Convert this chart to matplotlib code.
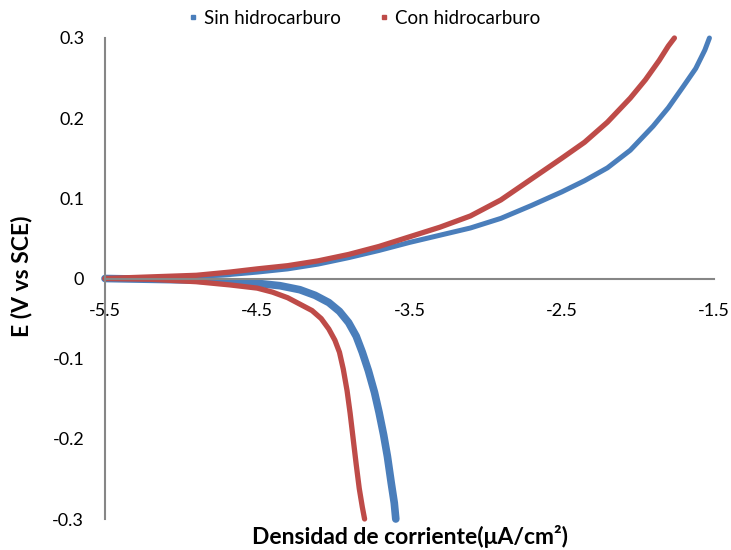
import matplotlib
matplotlib.use("Agg")
import matplotlib.pyplot as plt
from matplotlib.lines import Line2D

plt.rcParams['font.family'] = ['Lato', 'DejaVu Sans']

# Sin hidrocarburo - anodic / cathodic branches (log i, E)
sin_an_x = [-5.5, -5.2, -4.9, -4.68, -4.5, -4.3, -4.1, -3.9, -3.7, -3.5, -3.3, -3.1,
            -2.9, -2.7, -2.5, -2.35, -2.2, -2.05, -1.9, -1.8, -1.7, -1.62, -1.56, -1.53]
sin_an_y = [0.0, 0.001, 0.003, 0.005, 0.008, 0.012, 0.018, 0.026, 0.035, 0.045, 0.054, 0.063,
            0.075, 0.091, 0.108, 0.122, 0.138, 0.160, 0.190, 0.213, 0.240, 0.262, 0.285, 0.300]
sin_ca_x = [-5.5, -5.2, -4.9, -4.68, -4.5, -4.35, -4.22, -4.12, -4.03, -3.96, -3.9, -3.85,
            -3.81, -3.77, -3.73, -3.70, -3.67, -3.645, -3.62, -3.60, -3.59]
sin_ca_y = [0.0, -0.001, -0.002, -0.004, -0.006, -0.009, -0.014, -0.021, -0.030, -0.041,
            -0.055, -0.072, -0.092, -0.115, -0.142, -0.167, -0.195, -0.222, -0.255, -0.280,
            -0.300]

# Con hidrocarburo
con_an_x = [-5.5, -5.2, -4.9, -4.68, -4.5, -4.3, -4.1, -3.9, -3.7, -3.5, -3.3, -3.1,
            -2.9, -2.7, -2.5, -2.35, -2.2, -2.05, -1.95, -1.86, -1.80, -1.76]
con_an_y = [0.0, 0.002, 0.004, 0.008, 0.012, 0.016, 0.022, 0.030, 0.040, 0.052, 0.064, 0.078,
            0.098, 0.124, 0.150, 0.170, 0.195, 0.225, 0.248, 0.272, 0.290, 0.300]
con_ca_x = [-5.5, -5.2, -4.9, -4.68, -4.5, -4.4, -4.3, -4.22, -4.14, -4.08, -4.03, -3.99,
            -3.96, -3.935, -3.91, -3.89, -3.87, -3.85, -3.83, -3.81, -3.795]
con_ca_y = [0.0, -0.001, -0.004, -0.008, -0.012, -0.017, -0.024, -0.032, -0.040, -0.050,
            -0.063, -0.077, -0.092, -0.113, -0.140, -0.168, -0.200, -0.232, -0.262, -0.285,
            -0.300]

xticks = [-5.5, -4.5, -3.5, -2.5, -1.5]
yticks = [-0.3, -0.2, -0.1, 0, 0.1, 0.2, 0.3]
ytick_labels = ['-0.3', '-0.2', '-0.1', '0', '0.1', '0.2', '0.3']

blue = '#4A7EBB'
red = '#BE4B48'
axis_gray = '#868686'

fig = plt.figure(figsize=(7.31, 5.5), dpi=100)
ax = fig.add_axes([105 / 731, 31 / 550, 609 / 731, 481 / 550])

ax.plot(sin_an_x, sin_an_y, color=blue, lw=3.6, solid_capstyle='round',
        solid_joinstyle='round', clip_on=False)
ax.plot(sin_ca_x, sin_ca_y, color=blue, lw=5.5, solid_capstyle='round',
        solid_joinstyle='round', clip_on=False)
ax.plot(con_an_x, con_an_y, color=red, lw=3.8, solid_capstyle='round',
        solid_joinstyle='round', clip_on=False)
ax.plot(con_ca_x, con_ca_y, color=red, lw=3.8, solid_capstyle='round',
        solid_joinstyle='round', clip_on=False)

ax.set_xlim(-5.5, -1.5)
ax.set_ylim(-0.3, 0.3)
ax.set_xticks(xticks)
ax.set_xticklabels([str(t) for t in xticks])
ax.set_yticks(yticks)
ax.set_yticklabels(ytick_labels)

for s in ['top', 'right']:
    ax.spines[s].set_visible(False)
ax.spines['bottom'].set_position(('data', 0))
ax.spines['bottom'].set_color(axis_gray)
ax.spines['left'].set_color(axis_gray)
ax.spines['bottom'].set_linewidth(1.5)
ax.spines['left'].set_linewidth(1.5)
ax.tick_params(axis='x', length=0, pad=18, labelsize=13)
ax.tick_params(axis='y', length=0, pad=15, labelsize=13)

fig.text(22 / 731, 1 - 276 / 550, 'E (V vs SCE)', rotation=90, ha='center', va='center',
         fontsize=16.5, fontweight='bold')
fig.text(410 / 731, 1 - 537 / 550, 'Densidad de corriente(μA/cm²)', ha='center', va='center',
         fontsize=16.5, fontweight='bold')

handles = [Line2D([], [], color=blue, marker='s', ms=3.5, ls='none'),
           Line2D([], [], color=red, marker='s', ms=3.5, ls='none')]
fig.legend(handles, ['Sin hidrocarburo', 'Con hidrocarburo'], loc='center',
           bbox_to_anchor=(364 / 731, 1 - 18 / 550), ncol=2, frameon=False,
           fontsize=13.5, handlelength=0.6, handletextpad=0.3, columnspacing=2.0)

fig.savefig('out.png', dpi=100)
